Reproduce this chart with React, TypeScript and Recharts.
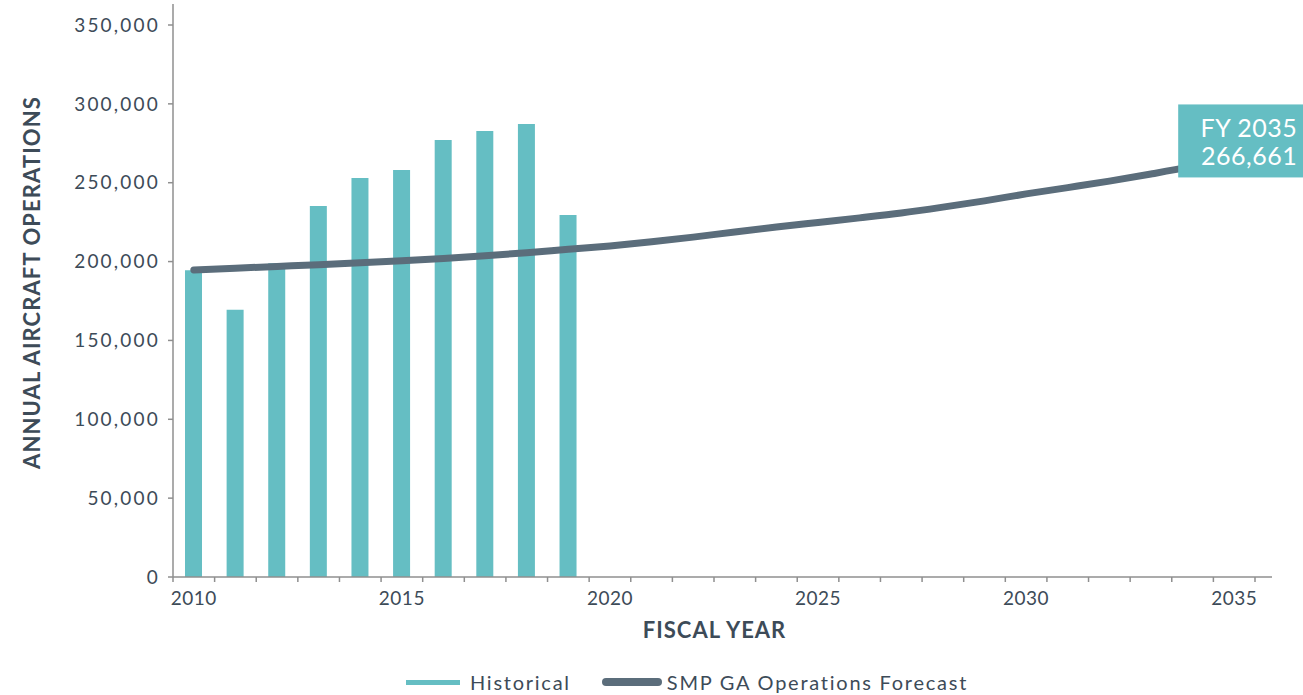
import React from "react";
import { ComposedChart, Bar, Line, XAxis, YAxis, LabelList, Label } from "recharts";

const years = [2010,2011,2012,2013,2014,2015,2016,2017,2018,2019,2020,2021,2022,2023,2024,2025,2026,2027,2028,2029,2030,2031,2032,2033,2034,2035];
const historical = [194500,169500,198900,235300,253000,258100,277100,282800,287300,229500];
const forecast = [194700,195800,196900,198000,199200,200500,202000,203700,205600,207800,209900,212500,215500,218800,221900,224800,227700,230800,234500,238500,242900,246900,251000,255500,260500,266661];
const yTicks = [0,50000,100000,150000,200000,250000,300000,350000];
const labelYears = [2010,2015,2020,2025,2030,2035];

const W = 1303;
const H = 695;
const M = { top: 4, right: 31, bottom: 0, left: 0 };
const Y_W = 173;
const X_PAD_R = 17;
const BAND = (W - M.left - M.right - Y_W - X_PAD_R) / years.length;

const TEAL = "#65bec3";
const SLATE = "#5b6d7b";
const TEXT = "#3d4b58";
const AXIS = "#8f8f8f";
const FONT = "Lato, 'Noto Sans', sans-serif";

const data = years.map((y, i) => ({
  year: y,
  hist: i < historical.length ? historical[i] : null,
  fc: forecast[i],
}));

const XTick = (props: any) => {
  const { x, y, payload, index } = props;
  const left = x - BAND / 2;
  const right = x + BAND / 2;
  return (
    <g>
      <line x1={left} y1={y} x2={left} y2={y + 5} stroke={AXIS} strokeWidth={1.5} />
      {index === years.length - 1 && (
        <line x1={right} y1={y} x2={right} y2={y + 5} stroke={AXIS} strokeWidth={1.5} />
      )}
      {labelYears.includes(payload.value) && (
        <text x={x} y={y + 28} textAnchor="middle" fill={TEXT} fontSize={19} fontFamily={FONT} letterSpacing={0.5}>
          {payload.value}
        </text>
      )}
    </g>
  );
};

const EndLabel = (props: any) => {
  const { x, y, index } = props;
  if (index !== years.length - 1) return null;
  const bx = x - 56;
  return (
    <g>
      <rect x={bx} y={y - 52} width={W - bx} height={73} fill={TEAL} />
      <text x={x + 63} y={y - 19} textAnchor="end" fill="#ffffff" fontSize={25} fontFamily={FONT} letterSpacing={0.5}>
        FY 2035
      </text>
      <text x={x + 63} y={y + 9} textAnchor="end" fill="#ffffff" fontSize={25} fontFamily={FONT} letterSpacing={0.5}>
        {forecast[forecast.length - 1].toLocaleString("en-US")}
      </text>
    </g>
  );
};

const YTitle = (props: any) => {
  const vb = props.viewBox || { x: 0, y: 0, width: 0, height: 0 };
  const cx = vb.x + 40;
  const cy = vb.y + vb.height / 2 - 8;
  return (
    <text
      x={cx}
      y={cy}
      transform={`rotate(-90, ${cx}, ${cy})`}
      textAnchor="middle"
      fill={TEXT}
      fontSize={22}
      fontWeight={700}
      fontFamily={FONT}
      letterSpacing={1.1}
    >
      ANNUAL AIRCRAFT OPERATIONS
    </text>
  );
};

export default function App() {
  return (
    <div style={{ position: "absolute", left: 0, top: 0, width: W, height: H, background: "#ffffff" }}>
      <ComposedChart width={W} height={H} data={data} margin={M}>
        <XAxis
          dataKey="year"
          type="category"
          height={H - 577 - M.bottom}
          interval={0}
          tickLine={false}
          tickSize={0}
          tickMargin={0}
          padding={{ left: 0, right: X_PAD_R }}
          axisLine={{ stroke: AXIS, strokeWidth: 1.5 }}
          tick={<XTick />}
        >
          <Label
            value="FISCAL YEAR"
            position="insideTop"
            offset={45}
            dx={-8}
            fill={TEXT}
            fontSize={22}
            fontWeight={700}
            fontFamily={FONT}
            letterSpacing={1}
          />
        </XAxis>
        <YAxis
          width={Y_W}
          domain={[0, 350000]}
          ticks={yTicks}
          padding={{ top: 21, bottom: 0 }}
          tickSize={5}
          tickMargin={8}
          axisLine={{ stroke: AXIS, strokeWidth: 1.5 }}
          tickLine={{ stroke: AXIS, strokeWidth: 1.5 }}
          tick={{ fill: TEXT, fontSize: 19, fontFamily: FONT, letterSpacing: 2.2 }}
          tickFormatter={(v: number) => v.toLocaleString("en-US")}
        >
          <Label content={<YTitle />} />
        </YAxis>
        <Bar dataKey="hist" name="Historical" fill={TEAL} barSize={17} isAnimationActive={false} />
        <Line
          dataKey="fc"
          name="SMP GA Operations Forecast"
          type="monotone"
          stroke={SLATE}
          strokeWidth={7}
          strokeLinecap="round"
          dot={false}
          activeDot={false}
          isAnimationActive={false}
        >
          <LabelList dataKey="fc" content={<EndLabel />} />
        </Line>
      </ComposedChart>
      <div
        style={{
          position: "absolute",
          top: 670,
          left: 406,
          display: "flex",
          alignItems: "center",
          fontFamily: FONT,
          fontSize: 20,
          color: TEXT,
          letterSpacing: 1.75,
          height: 24,
          whiteSpace: "nowrap",
        }}
      >
        <div style={{ display: "flex", alignItems: "center", marginRight: 31 }}>
          <div style={{ width: 54, height: 5, background: TEAL, marginRight: 10 }} />
          <span>Historical</span>
        </div>
        <div style={{ display: "flex", alignItems: "center" }}>
          <div style={{ width: 60, height: 8, borderRadius: 4, background: SLATE, marginRight: 5 }} />
          <span>SMP GA Operations Forecast</span>
        </div>
      </div>
    </div>
  );
}
